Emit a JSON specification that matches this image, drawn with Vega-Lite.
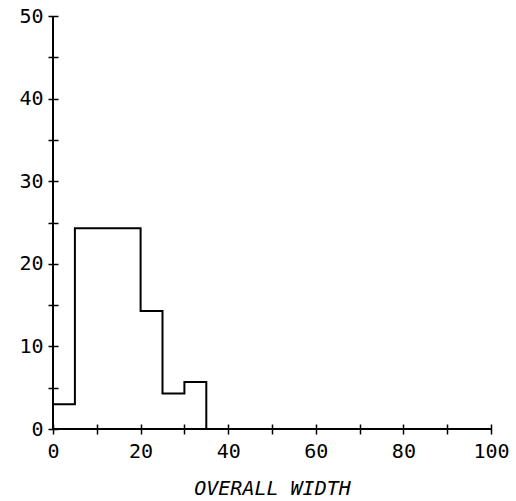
{
  "$schema": "https://vega.github.io/schema/vega-lite/v6.json",
  "width": 438,
  "height": 413,
  "autosize": "none",
  "padding": {"left": 53, "top": 16, "right": 25, "bottom": 72},
  "background": "white",
  "config": {
    "view": {"stroke": null},
    "axis": {
      "domain": false,
      "grid": false,
      "tickColor": "black",
      "tickWidth": 1.5,
      "tickSize": 10,
      "offset": -5,
      "labelFont": "DejaVu Sans Mono",
      "labelFontSize": 20,
      "labelColor": "black",
      "labelFlush": false,
      "titleFont": "DejaVu Sans Mono",
      "titleFontSize": 20,
      "titleFontStyle": "italic",
      "titleFontWeight": "normal",
      "titleColor": "black"
    }
  },
  "data": {
    "values": [
      {"lo": 0, "pct": 3.0},
      {"lo": 5, "pct": 24.3},
      {"lo": 10, "pct": 24.3},
      {"lo": 15, "pct": 24.3},
      {"lo": 20, "pct": 14.3},
      {"lo": 25, "pct": 4.3},
      {"lo": 30, "pct": 5.7},
      {"lo": 35, "pct": 0},
      {"lo": 40, "pct": 0},
      {"lo": 45, "pct": 0},
      {"lo": 50, "pct": 0},
      {"lo": 55, "pct": 0},
      {"lo": 60, "pct": 0},
      {"lo": 65, "pct": 0},
      {"lo": 70, "pct": 0},
      {"lo": 75, "pct": 0},
      {"lo": 80, "pct": 0},
      {"lo": 85, "pct": 0},
      {"lo": 90, "pct": 0},
      {"lo": 95, "pct": 0},
      {"lo": 100, "pct": 0}
    ]
  },
  "layer": [
    {
      "mark": {"type": "line", "interpolate": "step-after", "color": "black", "strokeWidth": 2},
      "encoding": {
        "x": {
          "field": "lo", "type": "quantitative",
          "scale": {"domain": [0, 100], "nice": false, "zero": false},
          "axis": {
            "values": [0, 10, 20, 30, 40, 50, 60, 70, 80, 90, 100],
            "labelExpr": "datum.value % 20 === 0 ? datum.label : ''",
            "labelPadding": 7,
            "title": "OVERALL WIDTH",
            "titlePadding": 17
          }
        },
        "y": {
          "field": "pct", "type": "quantitative",
          "scale": {"domain": [0, 50], "nice": false},
          "axis": {
            "values": [0, 5, 10, 15, 20, 25, 30, 35, 40, 45, 50],
            "labelExpr": "datum.value % 10 === 0 ? datum.label : ''",
            "labelPadding": 5,
            "title": null
          }
        }
      }
    },
    {
      "mark": {"type": "rule", "color": "black", "strokeWidth": 2},
      "encoding": {"x": {"datum": 0}}
    },
    {
      "mark": {"type": "rule", "color": "black", "strokeWidth": 2},
      "encoding": {"y": {"datum": 0}}
    }
  ]
}
